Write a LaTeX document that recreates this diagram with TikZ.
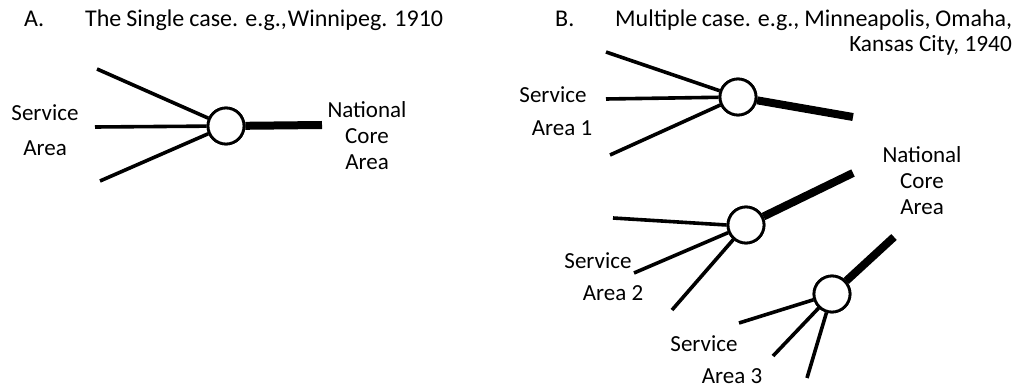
\documentclass[tikz,border=0pt]{standalone}
\usepackage{fontspec}
\setmainfont{Carlito}
\begin{document}
\begin{tikzpicture}[x=1pt,y=-1pt,
  hub/.style={circle,draw,line width=2.8pt,fill=white,minimum size=36pt,inner sep=0pt},
  thin/.style={line width=3.6pt},
  thick/.style={line width=8pt},
  lbl/.style={font=\fontsize{23}{26}\selectfont,align=center,inner sep=0pt},
  ttl/.style={font=\fontsize{24}{26}\selectfont,inner sep=0pt,anchor=base west}]
\useasboundingbox (0,0) rectangle (1015,387);
% Panel A
\node[ttl] (tA) at (24,27) {A.};
\node[ttl] (tA2) at (85,27) {\makebox[358pt][s]{The Single case. e.g.,\hspace{1pt}Winnipeg. 1910}};
\node[hub] (ha) at (226,126) {};
\coordinate (a1) at (97,69);
\coordinate (a2) at (95,127);
\coordinate (a3) at (100,181);
\coordinate (a4) at (322,125);
\draw[thin] (a1) -- (ha);
\draw[thin] (a2) -- (ha);
\draw[thin] (a3) -- (ha);
\draw[thick] (ha) -- (a4);
\node[lbl] (sa) at (45,113) {Service};
\node[lbl] (sa2) at (45,148) {Area};
\node[lbl] (na) at (367,136) {National\\Core\\Area};
% Panel B
\node[ttl] (tB) at (555,27) {B.};
\node[ttl] (tB2) at (615,27) {\makebox[397pt][s]{Multiple case. e.g., Minneapolis, Omaha,}};
\node[font=\fontsize{23.3}{26}\selectfont,inner sep=0pt,anchor=base east] (tB3) at (1012,52) {Kansas City, 1940};
% hub 1
\node[hub] (h1) at (738,97) {};
\coordinate (b1) at (606,52);
\coordinate (b2) at (606,99);
\coordinate (b3) at (610,155);
\coordinate (b4) at (853,117);
\draw[thin] (b1) -- (h1);
\draw[thin] (b2) -- (h1);
\draw[thin] (b3) -- (h1);
\draw[thick] (h1) -- (b4);
\node[lbl] (s1) at (553,95) {Service};
\node[lbl] (s1b) at (562,128) {Area 1};
% hub 2
\node[hub] (h2) at (746,225) {};
\coordinate (c1) at (613,218);
\coordinate (c2) at (634,273);
\coordinate (c3) at (672,310);
\coordinate (c4) at (853,173);
\draw[thin] (c1) -- (h2.180);
\draw[thin] (c2) -- (h2);
\draw[thin] (c3) -- (h2);
\draw[thick] (h2) -- (c4);
\node[lbl] (s2) at (598,261) {Service};
\node[lbl] (s2b) at (613,293) {Area 2};
% hub 3
\node[hub] (h3) at (832,294) {};
\coordinate (d1) at (739,323);
\coordinate (d2) at (773,356);
\coordinate (d3) at (807,378);
\coordinate (d4) at (894,237);
\draw[thin] (d1) -- (h3);
\draw[thin] (d2) -- (h3);
\draw[thin] (d3) -- (h3);
\draw[thick] (h3) -- (d4);
\node[lbl,anchor=base] (s3) at (704,352) {Service};
\node[lbl,anchor=base] (s3b) at (732,383) {Area 3};
\node[lbl] (nb) at (922,181) {National\\Core\\Area};
% redraw hubs on top
\node[hub] at (ha) {};
\node[hub] at (h1) {};
\node[hub] at (h2) {};
\node[hub] at (h3) {};
\end{tikzpicture}
\end{document}
